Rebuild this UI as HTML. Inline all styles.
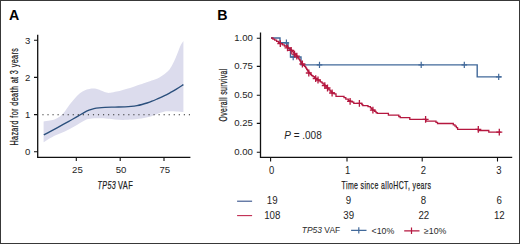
<!DOCTYPE html>
<html><head><meta charset="utf-8"><style>
html,body{margin:0;padding:0;background:#fff;}
body{width:520px;height:244px;position:relative;overflow:hidden;}
.frame{position:absolute;left:0;top:0;width:518px;height:242px;border:1px solid #383838;}
</style></head><body>
<div class="frame"></div>
<svg width="518" height="242" viewBox="1 1 518 242" style="position:absolute;left:1px;top:1px">
<g font-family="Liberation Sans, sans-serif" fill="#000" font-weight="bold" font-size="14.2">
<text x="9.0" y="19.8">A</text>
<text x="217.3" y="19.9">B</text>
</g>
<!-- panel A -->
<path d="M43.6,121.5 C44.67,121.35 48.10,120.97 50.00,120.60 C51.90,120.23 53.35,119.97 55.00,119.30 C56.65,118.63 58.27,117.90 59.90,116.60 C61.53,115.30 63.17,113.50 64.80,111.50 C66.43,109.50 68.05,106.78 69.70,104.60 C71.35,102.42 73.05,100.25 74.70,98.40 C76.35,96.55 77.97,94.83 79.60,93.50 C81.23,92.17 82.87,91.17 84.50,90.40 C86.13,89.63 87.47,89.17 89.40,88.90 C91.33,88.63 93.95,88.45 96.10,88.80 C98.25,89.15 100.58,90.37 102.30,91.00 C104.02,91.63 105.03,92.30 106.40,92.60 C107.77,92.90 108.80,92.97 110.50,92.80 C112.20,92.63 114.55,92.08 116.60,91.60 C118.65,91.12 120.57,90.50 122.80,89.90 C125.03,89.30 127.13,88.88 130.00,88.00 C132.87,87.12 137.22,85.57 140.00,84.60 C142.78,83.63 145.03,82.77 146.70,82.20 C148.37,81.63 148.20,81.80 150.00,81.20 C151.80,80.60 155.05,79.80 157.50,78.60 C159.95,77.40 162.95,75.27 164.70,74.00 C166.45,72.73 167.12,71.88 168.00,71.00 C168.88,70.12 169.25,69.78 170.00,68.70 C170.75,67.62 171.53,66.37 172.50,64.50 C173.47,62.63 174.83,59.72 175.80,57.50 C176.77,55.28 177.48,53.25 178.30,51.20 C179.12,49.15 179.85,46.90 180.70,45.20 C181.55,43.50 182.95,41.70 183.40,41.00 L183.4,112.0 C182.18,111.90 178.67,111.52 176.10,111.40 C173.53,111.28 169.92,111.27 168.00,111.30 C166.08,111.33 166.32,111.18 164.60,111.60 C162.88,112.02 160.00,112.98 157.70,113.80 C155.40,114.62 153.50,115.72 150.80,116.50 C148.10,117.28 144.97,117.98 141.50,118.50 C138.03,119.02 133.08,119.35 130.00,119.60 C126.92,119.85 125.50,120.02 123.00,120.00 C120.50,119.98 117.50,119.70 115.00,119.50 C112.50,119.30 110.70,119.00 108.00,118.80 C105.30,118.60 101.47,118.33 98.80,118.30 C96.13,118.27 94.30,118.28 92.00,118.60 C89.70,118.92 87.88,118.92 85.00,120.20 C82.12,121.48 78.07,124.43 74.70,126.30 C71.33,128.17 68.08,129.87 64.80,131.40 C61.52,132.93 58.53,133.70 55.00,135.50 C51.47,137.30 45.50,141.08 43.60,142.20 Z" fill="#dcdced" stroke="none"/>
<path d="M43.8,134.9 C44.83,134.35 47.72,132.82 50.00,131.60 C52.28,130.38 54.37,129.32 57.50,127.60 C60.63,125.88 65.38,123.20 68.80,121.30 C72.22,119.40 75.47,117.65 78.00,116.20 C80.53,114.75 82.17,113.60 84.00,112.60 C85.83,111.60 87.33,110.87 89.00,110.20 C90.67,109.53 92.33,109.00 94.00,108.60 C95.67,108.20 97.17,108.00 99.00,107.80 C100.83,107.60 102.33,107.52 105.00,107.40 C107.67,107.28 111.67,107.20 115.00,107.10 C118.33,107.00 122.32,106.92 125.00,106.80 C127.68,106.68 129.10,106.60 131.10,106.40 C133.10,106.20 135.18,105.92 137.00,105.60 C138.82,105.28 140.33,104.93 142.00,104.50 C143.67,104.07 145.33,103.55 147.00,103.00 C148.67,102.45 150.17,101.93 152.00,101.20 C153.83,100.47 156.00,99.48 158.00,98.60 C160.00,97.72 162.00,96.87 164.00,95.90 C166.00,94.93 168.00,93.88 170.00,92.80 C172.00,91.72 173.77,90.77 176.00,89.40 C178.23,88.03 182.17,85.40 183.40,84.60" fill="none" stroke="#2a4f7c" stroke-width="1.35" stroke-linejoin="round"/>
<line x1="42.4" y1="114.7" x2="191" y2="114.7" stroke="#2a2a2a" stroke-width="1.15" stroke-dasharray="1.15 3.9"/>
<path d="M37.7,34.8 V157.3 H190.4" fill="none" stroke="#111" stroke-width="1.3"/>
<path d="M34,40.2 H37.7 M34,77.4 H37.7 M34,114.6 H37.7 M34,151.7 H37.7 M76.3,157.3 V161 M120.2,157.3 V161 M164,157.3 V161" stroke="#111" stroke-width="1.1"/>
<g font-family="Liberation Sans, sans-serif" fill="#1e1e1e" font-size="9.6">
<text x="30.4" y="43.5" text-anchor="end" font-size="9.6" textLength="5.34" lengthAdjust="spacingAndGlyphs">3</text>
<text x="30.4" y="80.7" text-anchor="end" font-size="9.6" textLength="5.34" lengthAdjust="spacingAndGlyphs">2</text>
<text x="30.4" y="117.9" text-anchor="end" font-size="9.6" textLength="5.34" lengthAdjust="spacingAndGlyphs">1</text>
<text x="30.4" y="155.0" text-anchor="end" font-size="9.6" textLength="5.34" lengthAdjust="spacingAndGlyphs">0</text>
<text x="77.4" y="173.1" text-anchor="middle" font-size="9.6" textLength="10.68" lengthAdjust="spacingAndGlyphs">25</text>
<text x="121" y="173.1" text-anchor="middle" font-size="9.6" textLength="10.68" lengthAdjust="spacingAndGlyphs">50</text>
<text x="164.8" y="173.1" text-anchor="middle" font-size="9.6" textLength="10.68" lengthAdjust="spacingAndGlyphs">75</text>
</g>
<g font-family="Liberation Sans, sans-serif" fill="#1e1e1e" font-size="10.8" stroke="#1e1e1e" stroke-width="0.25" letter-spacing="0.6">
<text x="97.6" y="188.8" textLength="18.6" lengthAdjust="spacingAndGlyphs" font-style="italic">TP53</text>
<text x="118" y="188.8" textLength="15.2" lengthAdjust="spacingAndGlyphs">VAF</text>
<text transform="translate(18.2,145.6) rotate(-90)" x="0" y="0" textLength="97.8" lengthAdjust="spacingAndGlyphs">Hazard for death at 3 years</text>
</g>
<!-- panel B -->
<path d="M260.5,32.6 V157.3 H512.2" fill="none" stroke="#111" stroke-width="1.3"/>
<path d="M256.8,38.2 H260.5 M256.8,66.4 H260.5 M256.8,95.3 H260.5 M256.8,123.4 H260.5 M256.8,152.3 H260.5 M270.6,157.3 V161.6 M347,157.3 V161.6 M422.2,157.3 V161.6 M497.5,157.3 V161.6" stroke="#111" stroke-width="1.1"/>
<g font-family="Liberation Sans, sans-serif" fill="#1e1e1e" font-size="9.6">
<text x="252.9" y="40.8" text-anchor="end" font-size="9.8" textLength="18.68" lengthAdjust="spacingAndGlyphs">1.00</text>
<text x="252.9" y="69.0" text-anchor="end" font-size="9.8" textLength="18.68" lengthAdjust="spacingAndGlyphs">0.75</text>
<text x="252.9" y="97.9" text-anchor="end" font-size="9.8" textLength="18.68" lengthAdjust="spacingAndGlyphs">0.50</text>
<text x="252.9" y="126.0" text-anchor="end" font-size="9.8" textLength="18.68" lengthAdjust="spacingAndGlyphs">0.25</text>
<text x="252.9" y="154.9" text-anchor="end" font-size="9.8" textLength="18.68" lengthAdjust="spacingAndGlyphs">0.00</text>
<text x="271.7" y="173.8" text-anchor="middle" font-size="10.2" textLength="5.28" lengthAdjust="spacingAndGlyphs">0</text>
<text x="347.6" y="173.8" text-anchor="middle" font-size="10.2" textLength="5.28" lengthAdjust="spacingAndGlyphs">1</text>
<text x="423.4" y="173.8" text-anchor="middle" font-size="10.2" textLength="5.28" lengthAdjust="spacingAndGlyphs">2</text>
<text x="498.9" y="173.8" text-anchor="middle" font-size="10.2" textLength="5.28" lengthAdjust="spacingAndGlyphs">3</text>
</g>
<g font-family="Liberation Sans, sans-serif" fill="#1e1e1e" font-size="10.8" stroke="#1e1e1e" stroke-width="0.25" letter-spacing="0.6">
<text x="341.6" y="188.8" textLength="89.8" lengthAdjust="spacingAndGlyphs">Time since alloHCT, years</text>
<text transform="translate(227.4,121.6) rotate(-90)" x="0" y="0" textLength="53.2" lengthAdjust="spacingAndGlyphs">Overall survival</text>
</g>
<path d="M271,38 H280 V42.8 H288 V48.8 H290.5 V57 H301 V64.9 H477.2 V76.9 H501.6" fill="none" stroke="#41699a" stroke-width="1.4"/>
<path d="M283.6,42.8 h5.6 M286.4,39.6 v6.4 M290.4,57.0 h5.6 M293.2,53.8 v6.4 M316.7,64.9 h5.6 M319.5,61.7 v6.4 M418.4,64.9 h5.6 M421.2,61.7 v6.4 M461.5,64.9 h5.6 M464.3,61.7 v6.4 M495.9,76.9 h5.6 M498.7,73.7 v6.4" fill="none" stroke="#41699a" stroke-width="1.2"/>
<path d="M271.0,38.0 L272.9,38.0 L272.9,39.1 L274.7,39.1 L274.7,40.2 L276.6,40.2 L276.6,41.4 L278.4,41.4 L278.4,42.5 L280.3,42.5 L280.3,43.6 L282.4,43.6 L282.4,44.8 L284.4,44.8 L284.4,46.0 L286.5,46.0 L286.5,47.2 L288.2,47.2 L288.2,48.4 L289.9,48.4 L289.9,49.6 L291.6,49.6 L291.6,50.8 L292.6,50.8 L292.6,51.9 L293.6,51.9 L293.6,52.9 L294.6,52.9 L294.6,54.0 L295.5,54.0 L295.5,55.1 L296.5,55.1 L296.5,56.1 L297.5,56.1 L297.5,57.2 L298.2,57.2 L298.2,58.2 L298.9,58.2 L298.9,59.2 L299.6,59.2 L299.6,60.2 L300.3,60.2 L300.3,61.3 L301.0,61.3 L301.0,62.3 L301.7,62.3 L301.7,63.3 L302.4,63.3 L302.4,64.3 L303.4,64.3 L303.4,65.3 L304.5,65.3 L304.5,66.4 L305.5,66.4 L305.5,67.4 L306.1,67.4 L306.1,68.4 L306.7,68.4 L306.7,69.4 L307.4,69.4 L307.4,70.5 L308.0,70.5 L308.0,71.5 L308.6,71.5 L308.6,72.5 L309.6,72.5 L309.6,73.5 L310.6,73.5 L310.6,74.6 L311.6,74.6 L311.6,75.6 L313.0,75.6 L313.0,76.6 L314.3,76.6 L314.3,77.7 L315.7,77.7 L315.7,78.7 L317.2,78.7 L317.2,79.7 L318.8,79.7 L318.8,80.8 L320.3,80.8 L320.3,81.8 L321.9,81.8 L321.9,82.8 L322.9,82.8 L322.9,83.8 L324.0,83.8 L324.0,84.9 L325.0,84.9 L325.0,85.9 L326.0,85.9 L326.0,86.9 L327.0,86.9 L327.0,87.9 L328.0,87.9 L328.0,88.9 L329.0,88.9 L329.0,89.9 L330.1,89.9 L330.1,91.0 L331.1,91.0 L331.1,92.0 L332.1,92.0 L332.1,93.0 L334.1,93.0 L334.1,93.8 L336.0,93.8 L336.0,94.6 V96.4 H344 V97.6 H345.8 V99.1 H348.3 V100.4 H350.5 V101.3 H352 V102.1 H353.8 V103.4 H361.8 V104.6 H362.8 V105.6 H368 V106.6 H370.4 V107.8 H371.5 V109 H372.5 V110.2 H374.5 V111.4 H376 V112.6 H377.2 V113.4 H388.4 V115.2 H398.8 V116.5 H400.2 V117.7 H409.8 V119.4 H425.9 V121.2 H436 V122.4 H437.5 V123.5 H453.3 V124.8 H455 V126.2 H456.4 V127.6 H457.6 V129.3 H478.3 V130.5 H488.8 V132.2 H500.7" fill="none" stroke="#b5173f" stroke-width="1.3"/>
<path d="M277.3,43.6 h6.0 M280.3,40.2 v6.8 M284.5,47.8 h6.0 M287.5,44.4 v6.8 M288.2,50.4 h6.0 M291.2,47.0 v6.8 M291.5,54.2 h6.0 M294.5,50.8 v6.8 M293.8,56.2 h6.0 M296.8,52.8 v6.8 M299.4,64.0 h6.0 M302.4,60.6 v6.8 M305.8,73.0 h6.0 M308.8,69.6 v6.8 M312.7,78.7 h6.0 M315.7,75.3 v6.8 M315.0,80.0 h6.0 M318.0,76.6 v6.8 M321.8,85.6 h6.0 M324.8,82.2 v6.8 M324.5,88.0 h6.0 M327.5,84.6 v6.8 M329.1,93.0 h6.0 M332.1,89.6 v6.8 M347.1,101.3 h6.0 M350.1,97.9 v6.8 M356.4,103.4 h6.0 M359.4,100.0 v6.8 M369.9,110.2 h6.0 M372.9,106.8 v6.8 M422.6,119.4 h6.0 M425.6,116.0 v6.8 M475.3,129.3 h6.0 M478.3,125.9 v6.8 M496.3,132.2 h6.0 M499.3,128.8 v6.8" fill="none" stroke="#b5173f" stroke-width="1.3"/>
<g font-family="Liberation Sans, sans-serif" fill="#1e1e1e" font-size="10">
<text x="284.2" y="138.5"><tspan font-style="italic">P</tspan> = .008</text>
</g>
<!-- risk table -->
<line x1="237.1" y1="201.2" x2="252.1" y2="201.2" stroke="#34508a" stroke-width="1.1"/>
<line x1="237.1" y1="215.6" x2="252.1" y2="215.6" stroke="#c02a50" stroke-width="1.1"/>
<g font-family="Liberation Sans, sans-serif" fill="#1e1e1e" font-size="9.6">
<text x="272.2" y="204.4" text-anchor="middle" font-size="10.0" textLength="10.79" lengthAdjust="spacingAndGlyphs">19</text>
<text x="348.4" y="204.4" text-anchor="middle" font-size="10.0" textLength="5.39" lengthAdjust="spacingAndGlyphs">9</text>
<text x="423.4" y="204.4" text-anchor="middle" font-size="10.0" textLength="5.39" lengthAdjust="spacingAndGlyphs">8</text>
<text x="499.2" y="204.4" text-anchor="middle" font-size="10.0" textLength="5.39" lengthAdjust="spacingAndGlyphs">6</text>
<text x="272.3" y="218.9" text-anchor="middle" font-size="10.0" textLength="16.18" lengthAdjust="spacingAndGlyphs">108</text>
<text x="348.7" y="218.9" text-anchor="middle" font-size="10.0" textLength="10.79" lengthAdjust="spacingAndGlyphs">39</text>
<text x="423.8" y="218.9" text-anchor="middle" font-size="10.0" textLength="10.79" lengthAdjust="spacingAndGlyphs">22</text>
<text x="499.3" y="218.9" text-anchor="middle" font-size="10.0" textLength="10.79" lengthAdjust="spacingAndGlyphs">12</text>
</g>
<g font-family="Liberation Sans, sans-serif" fill="#2a2a2a" font-size="8.8">
<text x="301.8" y="233.3" textLength="38.4" lengthAdjust="spacingAndGlyphs"><tspan font-style="italic">TP53</tspan> VAF</text>
<text x="371.6" y="233.5">&lt;10%</text>
<text x="424" y="233.5">&#8805;10%</text>
</g>
<path d="M351.1,230.4 H366.5 M358.8,227.3 V233.6" stroke="#41699a" stroke-width="1.2"/>
<path d="M404.2,230.8 H419.5 M411.5,227.6 V234" stroke="#b5173f" stroke-width="1.2"/>
</svg>
</body></html>
